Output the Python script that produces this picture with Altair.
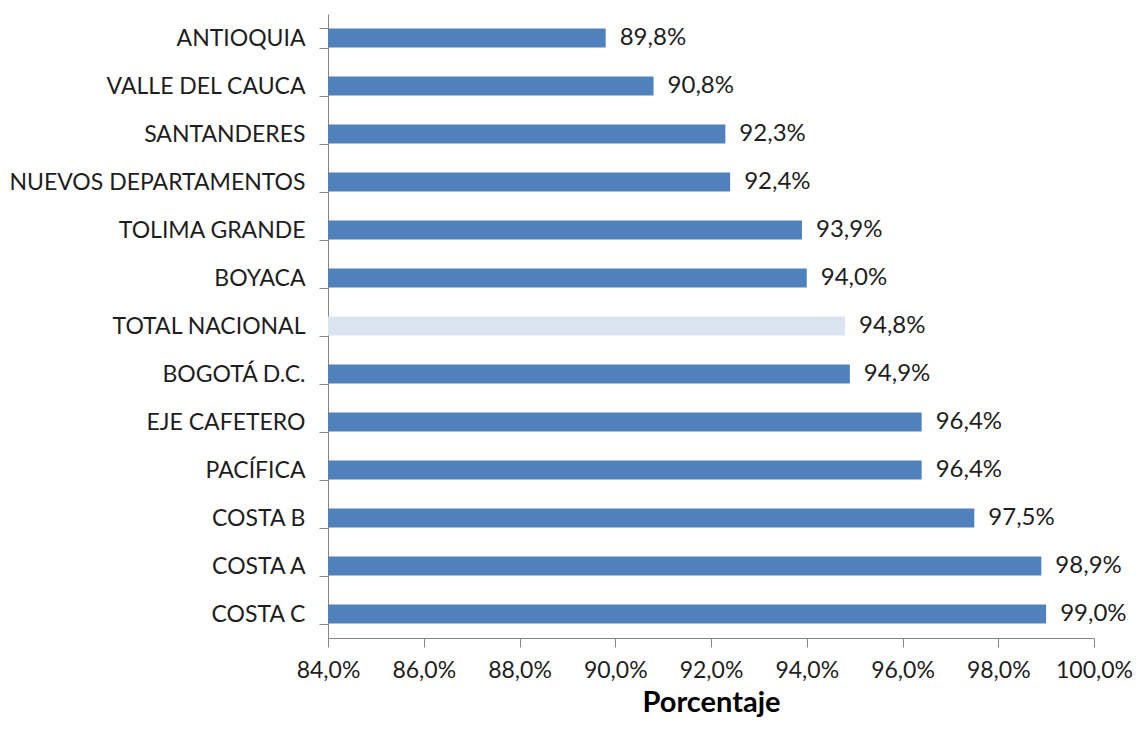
import altair as alt
import pandas as pd

categories = ["ANTIOQUIA", "VALLE DEL CAUCA", "SANTANDERES", "NUEVOS DEPARTAMENTOS",
              "TOLIMA GRANDE", "BOYACA", "TOTAL NACIONAL", "BOGOTÁ D.C.", "EJE CAFETERO",
              "PACÍFICA", "COSTA B", "COSTA A", "COSTA C"]
values = [89.8, 90.8, 92.3, 92.4, 93.9, 94.0, 94.8, 94.9, 96.4, 96.4, 97.5, 98.9, 99.0]
highlight = ["no", "no", "no", "no", "no", "no", "yes", "no", "no", "no", "no", "no", "no"]
x_ticks = [84, 86, 88, 90, 92, 94, 96, 98, 100]

df = pd.DataFrame({"region": categories, "value": values, "hl": highlight})

FONT = "Lato"
TXT = "#1e1e1e"
AX = "#868686"

y_enc = alt.Y("region:N", sort=categories,
              scale=alt.Scale(paddingInner=0.6, paddingOuter=0.3),
              axis=alt.Axis(title=None, labelFont=FONT, labelFontSize=23, labelColor=TXT,
                            labelPadding=14, tickSize=9, tickColor=AX, domainColor=AX,
                            tickBand="extent", labelLimit=400, grid=False))

x_scale = alt.Scale(domain=[84, 100], zero=False, nice=False)

x_axis = alt.Axis(values=x_ticks, grid=False, title="Porcentaje",
                  labelExpr="replace(format(datum.value, '.1f'), '.', ',') + '%'",
                  labelFont=FONT, labelFontSize=23, labelColor=TXT, labelPadding=12,
                  labelOverlap=False, labelFlush=False,
                  tickSize=9, tickColor=AX, domainColor=AX,
                  titleFont=FONT, titleFontSize=29, titleFontWeight="bold",
                  titleColor="#000000", titlePadding=6)

bars = alt.Chart(df).mark_bar().encode(
    y=y_enc,
    x=alt.X("value:Q", scale=x_scale, axis=x_axis),
    x2=alt.datum(84),
    color=alt.Color("hl:N", scale=alt.Scale(domain=["no", "yes"], range=["#4F81BD", "#DBE5F1"]),
                    legend=None),
)

labels = alt.Chart(df).transform_calculate(
    lab="replace(format(datum.value, '.1f'), '.', ',') + '%'"
).mark_text(align="left", baseline="middle", dx=14, font=FONT, fontSize=24, color=TXT).encode(
    y=alt.Y("region:N", sort=categories),
    x=alt.X("value:Q", scale=x_scale, axis=x_axis),
    text="lab:N",
)

chart = (bars + labels).properties(
    width=766, height=624,
    background="white",
    autosize=alt.AutoSizeParams(type="none"),
    padding={"left": 320, "top": 6, "right": 41, "bottom": 80},
).configure_view(stroke="transparent", strokeWidth=0)

chart.save("out.html", embed_options={"renderer": "svg", "actions": False})
